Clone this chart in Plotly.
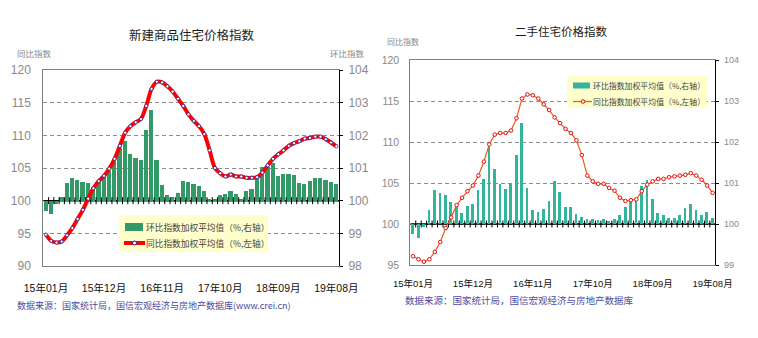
import plotly.graph_objects as go

# ---------------- data ----------------
tick_labels = ["15年01月", "15年12月", "16年11月", "17年10月", "18年09月", "19年08月"]
n_months = 56
months = list(range(n_months))
tick_idx = [0, 11, 22, 33, 44, 55]

# 新建商品住宅价格指数
new_yoy = [94.8, 93.85, 93.6, 93.75, 94.7, 95.8, 97.2, 98.6, 100.3, 101.9,
           103.0, 103.8, 104.9, 106.4, 108.4, 110.4, 111.4, 112.0, 112.5, 114.5,
           117.1, 118.2, 118.1, 117.5, 116.7, 115.6, 114.5, 113.2, 112.2, 111.4,
           110.2, 107.7, 105.0, 104.2, 103.7, 104.0, 103.7, 103.7, 103.5, 103.5,
           103.6, 104.3, 105.4, 106.4, 107.1, 107.7, 108.4, 108.8, 109.1, 109.5,
           109.6, 109.8, 109.8, 109.4, 108.9, 108.3]
new_mom = [99.67, 99.6, 99.9, 100.12, 100.53, 100.69, 100.62, 100.56, 100.53, 100.43,
           100.57, 100.72, 100.9, 101.18, 101.6, 101.82, 101.44, 101.31, 101.25, 102.16,
           102.78, 101.25, 100.47, 100.16, 100.11, 100.22, 100.6, 100.56, 100.52, 100.44,
           100.31, 100.06, 100.06, 100.18, 100.21, 100.31, 100.21, 100.06, 100.29, 100.36,
           100.69, 101.02, 101.02, 101.16, 100.77, 100.83, 100.83, 100.8, 100.53, 100.5,
           100.6, 100.68, 100.68, 100.62, 100.56, 100.52]

# 二手住宅价格指数
sec_yoy = [96.07, 95.7, 95.4, 95.7, 96.6, 97.8, 99.5, 100.8, 102.3, 103.2,
           104.0, 104.7, 105.9, 107.6, 109.7, 110.9, 111.1, 111.1, 111.4, 112.9,
           115.3, 115.8, 115.7, 115.3, 114.6, 113.9, 113.0, 112.3, 111.6, 111.1,
           110.2, 108.4, 105.9, 105.2, 104.9, 104.9, 104.4, 104.06, 103.2, 102.8,
           102.9, 103.0, 104.0, 104.8, 105.2, 105.5, 105.5, 105.7, 105.8, 105.9,
           106.0, 106.2, 105.9, 105.4, 104.7, 103.8]
sec_mom = [99.76, 99.67, 99.93, 100.34, 100.83, 100.76, 100.71, 100.53, 100.42, 100.28,
           100.44, 100.5, 100.83, 101.1, 101.89, 101.33, 100.98, 100.85, 100.98, 101.68,
           102.46, 100.87, 100.33, 100.3, 100.37, 100.56, 101.06, 100.79, 100.42, 100.42,
           100.24, 100.16, 100.11, 100.11, 100.1, 100.11, 100.08, 100.11, 100.22, 100.41,
           100.59, 100.59, 100.93, 101.07, 100.6, 100.28, 100.22, 100.14, 100.14, 100.22,
           100.4, 100.5, 100.34, 100.22, 100.3, 100.14]

title_new = "新建商品住宅价格指数"
title_sec = "二手住宅价格指数"
name_mom = "环比指数加权平均值（%,右轴）"
name_yoy = "同比指数加权平均值（%,左轴）"
axis_yoy = "同比指数"
axis_mom = "环比指数"
src_new = "数据来源：国家统计局，国信宏观经济与房地产数据库(www.crei.cn)"
src_sec = "数据来源：国家统计局，国信宏观经济与房地产数据库"
BASE = 100

# ---------------- styling ----------------
W, H = 758, 338
CJK = "Noto Sans CJK SC"
NUM = "Liberation Sans Narrow, Liberation Sans, Noto Sans CJK SC"
GRAY = "#8a8a8a"
GREEN = "#339966"
TEAL = "#33B59C"
RED = "#FF0000"
ORANGE = "#F05A1A"
LEG_BG = "#FFFFCC"

def px_x(p):
    return p / W

def px_y(p):
    return 1 - p / H

domL = [px_x(43.3), px_x(339)]
domLy = [px_y(266), px_y(70)]
domR = [px_x(410.3), px_x(715.3)]
domRy = [px_y(265), px_y(60)]

fig = go.Figure()

# left chart
fig.add_trace(go.Bar(x=months, y=[v - BASE for v in new_mom], base=BASE,
                     marker=dict(color=GREEN, line=dict(width=0)), width=0.8,
                     name=name_mom, xaxis="x", yaxis="y", showlegend=False))
fig.add_trace(go.Scatter(x=[i + 0.5 for i in months[:-1]], y=[BASE] * (n_months - 1),
                         mode="markers", marker=dict(symbol="line-ns", size=5,
                         line=dict(width=1, color="black")),
                         showlegend=False, hoverinfo="skip", xaxis="x", yaxis="y"))
fig.add_trace(go.Scatter(x=months, y=new_yoy, mode="lines+markers",
                         line=dict(color=RED, width=4, shape="spline", smoothing=0.8),
                         marker=dict(symbol="circle", size=3.2, color="white",
                                     line=dict(color="#2020a0", width=0.8)),
                         name=name_yoy, xaxis="x", yaxis="y2", showlegend=False))

# right chart
fig.add_trace(go.Bar(x=months, y=[v - BASE for v in sec_mom], base=BASE,
                     marker=dict(color=TEAL, line=dict(width=0)), width=0.5,
                     name=name_mom, xaxis="x2", yaxis="y3", showlegend=False))
fig.add_trace(go.Scatter(x=[i + 0.5 for i in months[:-1]], y=[BASE] * (n_months - 1),
                         mode="markers", marker=dict(symbol="line-ns", size=5,
                         line=dict(width=1, color="black")),
                         showlegend=False, hoverinfo="skip", xaxis="x2", yaxis="y3"))
fig.add_trace(go.Scatter(x=months, y=sec_yoy, mode="lines+markers",
                         line=dict(color=ORANGE, width=1.2),
                         marker=dict(symbol="circle", size=3.6, color="white",
                                     line=dict(color="#E01010", width=1)),
                         name=name_yoy, xaxis="x2", yaxis="y4", showlegend=False))

xcommon = dict(range=[-0.5, n_months - 0.5], tickmode="array", tickvals=tick_idx,
               ticktext=tick_labels, showgrid=False, zeroline=False, showline=True,
               linecolor="#808080", linewidth=1, mirror=True, ticks="",
               fixedrange=True, automargin=False)


def prect(x0, y0, x1, y1, fill, line_color=None, line_width=0):
    return dict(type="rect", xref="paper", yref="paper",
                x0=px_x(x0), x1=px_x(x1), y0=px_y(y1), y1=px_y(y0),
                fillcolor=fill, line=dict(color=line_color or fill, width=line_width),
                layer="above")


def pline(x0, y0, x1, y1, color, width):
    return dict(type="line", xref="paper", yref="paper",
                x0=px_x(x0), x1=px_x(x1), y0=px_y(y0), y1=px_y(y1),
                line=dict(color=color, width=width), layer="above")


def pcircle(cx, cy, r, fill, color, width):
    return dict(type="circle", xref="paper", yref="paper",
                x0=px_x(cx - r), x1=px_x(cx + r), y0=px_y(cy + r), y1=px_y(cy - r),
                fillcolor=fill, line=dict(color=color, width=width), layer="above")


shapes = [
    dict(type="line", xref="x", yref="y", x0=-0.5, x1=n_months - 0.5, y0=BASE, y1=BASE,
         line=dict(color="black", width=1.5), layer="between"),
    dict(type="line", xref="x2", yref="y3", x0=-0.5, x1=n_months - 0.5, y0=BASE, y1=BASE,
         line=dict(color="black", width=1.5), layer="between"),
    # left legend
    prect(119, 215, 268, 252, LEG_BG),
    prect(125, 223, 143, 231, GREEN),
    pline(124, 243, 145, 243, RED, 4),
    pcircle(134.5, 243, 2, "white", "#2020a0", 1),
    # right legend
    prect(567, 76, 707, 108, LEG_BG),
    prect(573, 82.5, 590, 88.5, TEAL),
    pline(573, 101.5, 592, 101.5, ORANGE, 1.3),
    pcircle(583, 101.5, 1.8, "white", "#E01010", 1),
]

fig.update_layout(
    width=W, height=H, margin=dict(l=0, r=0, t=0, b=0, autoexpand=False),
    paper_bgcolor="white", plot_bgcolor="white",
    bargap=0, showlegend=False,
    xaxis=dict(domain=domL, anchor="y", tickfont=dict(family=NUM, size=10.5, color="#111"),
               ticklabelstandoff=12, **xcommon),
    yaxis=dict(domain=domLy, anchor="x", side="right", range=[98, 104], dtick=1,
               tick0=98, showgrid=True, gridcolor="#8c8c8c", griddash="4px,3px",
               gridwidth=1, showline=True, linecolor="black", linewidth=1,
               ticks="outside", ticklen=3, tickcolor="black", zeroline=False,
               automargin=False,
               tickfont=dict(family=NUM, size=12, color=GRAY), ticklabelstandoff=3),
    yaxis2=dict(overlaying="y", anchor="x", side="left", range=[90, 120], dtick=5,
                tick0=90, showgrid=False, zeroline=False, showline=True,
                linecolor="#808080", ticks="", automargin=False,
                tickfont=dict(family=NUM, size=12, color=GRAY), ticklabelstandoff=9),
    xaxis2=dict(domain=domR, anchor="y3", tickfont=dict(family=NUM, size=9.5, color="#111"),
                ticklabelstandoff=10, **xcommon),
    yaxis3=dict(domain=domRy, anchor="x2", side="right", range=[99, 104], dtick=1,
                tick0=99, showgrid=True, gridcolor="#8c8c8c", griddash="4px,3px",
                gridwidth=1, showline=True, linecolor="black", linewidth=1,
                ticks="outside", ticklen=3, tickcolor="black", zeroline=False,
                automargin=False,
                tickfont=dict(family=NUM, size=9, color=GRAY), ticklabelstandoff=3),
    yaxis4=dict(overlaying="y3", anchor="x2", side="left", range=[95, 120], dtick=5,
                tick0=95, showgrid=False, zeroline=False, showline=True,
                linecolor="#808080", ticks="", automargin=False,
                tickfont=dict(family=NUM, size=10.5, color=GRAY), ticklabelstandoff=8),
    shapes=shapes,
)

annos = [
    dict(text=title_new, x=px_x(191.5), y=px_y(34.5), xanchor="center", yanchor="middle",
         font=dict(family=CJK, size=12.5, color="#1a1a1a")),
    dict(text=title_sec, x=px_x(560.5), y=px_y(31.5), xanchor="center", yanchor="middle",
         font=dict(family=CJK, size=11.5, color="#1a1a1a")),
    dict(text=axis_yoy, x=px_x(16), y=px_y(53.5), xanchor="left", yanchor="middle",
         font=dict(family=CJK, size=8.5, color=GRAY)),
    dict(text=axis_mom, x=px_x(366), y=px_y(53.5), xanchor="right", yanchor="middle",
         font=dict(family=CJK, size=8.5, color=GRAY)),
    dict(text=axis_yoy, x=px_x(386), y=px_y(41.5), xanchor="left", yanchor="middle",
         font=dict(family=CJK, size=8, color=GRAY)),
    dict(text=src_new, x=px_x(16), y=px_y(305), xanchor="left", yanchor="middle",
         font=dict(family=CJK, size=9, color="#4B4BA0")),
    dict(text=src_sec, x=px_x(404), y=px_y(300), xanchor="left", yanchor="middle",
         font=dict(family=CJK, size=9.5, color="#4B4BA0")),
    # legend texts
    dict(text=name_mom, x=px_x(145), y=px_y(227), xanchor="left", yanchor="middle",
         font=dict(family=CJK, size=8.7, color="#444")),
    dict(text=name_yoy, x=px_x(145), y=px_y(243), xanchor="left", yanchor="middle",
         font=dict(family=CJK, size=8.7, color="#444")),
    dict(text=name_mom, x=px_x(592), y=px_y(85.5), xanchor="left", yanchor="middle",
         font=dict(family=CJK, size=7.9, color="#444")),
    dict(text=name_yoy, x=px_x(592), y=px_y(101.5), xanchor="left", yanchor="middle",
         font=dict(family=CJK, size=7.9, color="#444")),
]
for a in annos:
    fig.add_annotation(xref="paper", yref="paper", showarrow=False, borderpad=0, **a)

fig.write_html("out.html", config={"displayModeBar": False})
